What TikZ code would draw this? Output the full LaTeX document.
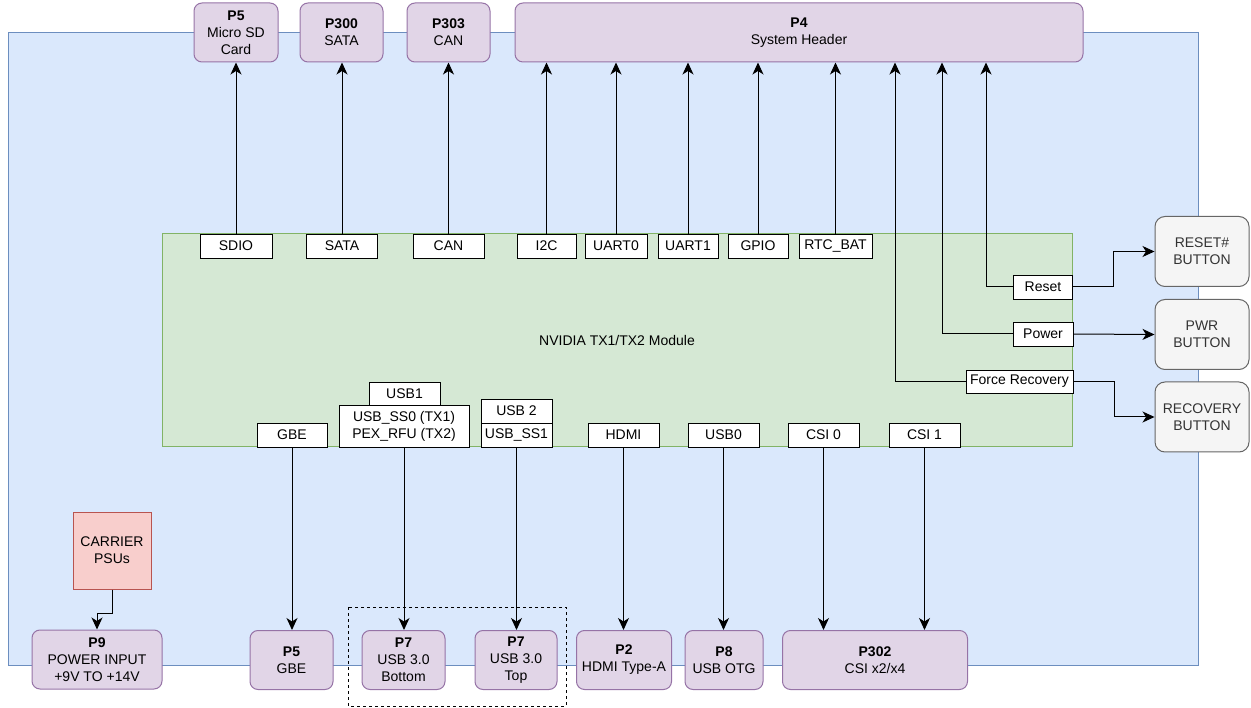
\documentclass[tikz,border=0pt]{standalone}
\usepackage{fontspec}
\setmainfont{Liberation Sans}
\usetikzlibrary{positioning, arrows.meta}

\definecolor{boardfill}{HTML}{DAE8FC}
\definecolor{boardline}{HTML}{6C8EBF}
\definecolor{modfill}{HTML}{D5E8D4}
\definecolor{modline}{HTML}{82B366}
\definecolor{connfill}{HTML}{E1D5E7}
\definecolor{connline}{HTML}{9673A6}
\definecolor{btnfill}{HTML}{F5F5F5}
\definecolor{btnline}{HTML}{666666}
\definecolor{psufill}{HTML}{F8CECC}
\definecolor{psuline}{HTML}{B85450}

\begin{document}
\begin{tikzpicture}[x=1pt, y=-1pt, font=\fontsize{14}{17}\selectfont,
    conn/.style={draw=connline, fill=connfill, line width=1pt, rounded corners=8pt,
                 align=center, inner sep=1pt, minimum height=59pt},
    sig/.style={draw, fill=white, line width=0.8pt, inner sep=1pt, minimum height=24pt},
    btn/.style={draw=btnline, fill=btnfill, line width=1pt, rounded corners=10pt,
                align=center, text=black!80, minimum width=94pt, minimum height=70pt},
    link/.style={line width=1pt, -{Stealth[length=12pt, width=11pt, inset=3.5pt]}}]
                \useasboundingbox (0,0) rectangle (1251,708);
                % carrier board and module
                \draw[fill=boardfill, draw=boardline, line width=1pt] (8,33) rectangle (1198,665);
                \node[draw=modline, fill=modfill, line width=1pt, minimum width=910pt, minimum height=213pt] (tx) at (617,340.5) {NVIDIA TX1/TX2 Module};

                % top connectors
                \node[conn, minimum width=84pt] (p5t) at (236,32.5) {\textbf{P5}\\Micro SD\\Card};
                \node[conn, minimum width=83pt] (p300) at (341.5,32.5) {\textbf{P300}\\SATA};
                \node[conn, minimum width=83pt] (p303) at (448.5,32.5) {\textbf{P303}\\CAN};
                \node[conn, minimum width=568pt] (p4) at (799,32.5) {\textbf{P4}\\System Header};

                % top signals
                \node[sig, minimum width=72pt] (sdio) at (236,246) {SDIO};
                \node[sig, minimum width=71pt] (sata) at (342,246) {SATA};
                \node[sig, minimum width=71pt] (can) at (448.5,246) {CAN};
                \node[sig, minimum width=59pt] (i2c) at (546.5,246) {I2C};
                \node[sig, minimum width=62pt] (uart0) at (616,246) {UART0};
                \node[sig, minimum width=60pt] (uart1) at (688,246) {UART1};
                \node[sig, minimum width=60pt] (gpio) at (758,246) {GPIO};
                \node[sig, minimum width=73pt] (rtc) at (835.5,246) {RTC\_BAT};

                % control signals
                \node[sig, minimum width=59pt] (reset) at (1043,287) {Reset};
                \node[sig, minimum width=60pt] (power) at (1043,334) {Power};
                \node[sig, minimum width=107pt, minimum height=23pt] (frec) at (1019.5,381.5) {Force Recovery};

                % buttons
                \node[btn] (rstbtn) at (1202,251.5) {RESET\#\\BUTTON};
                \node[btn] (pwrbtn) at (1202,334.5) {PWR\\BUTTON};
                \node[btn] (recbtn) at (1202,417) {RECOVERY\\BUTTON};

                % bottom signals
                \node[sig, minimum width=70pt] (gbe) at (292,435) {GBE};
                \node[sig, minimum width=71pt, minimum height=23pt] (usb1) at (404.5,393.5) {USB1};
                \node[sig, minimum width=130pt, minimum height=42pt, align=center] (ss0) at (404,426) {USB\_SS0 (TX1)\\PEX\_RFU (TX2)};
                \node[sig, minimum width=71pt] (usb2) at (516.5,411) {USB 2};
                \node[sig, minimum width=71pt] (ss1) at (516.5,435) {USB\_SS1};
                \node[sig, minimum width=71pt] (hdmi) at (623.5,435) {HDMI};
                \node[sig, minimum width=71pt] (usb0) at (723.5,435) {USB0};
                \node[sig, minimum width=71pt] (csi0) at (823.5,435) {CSI 0};
                \node[sig, minimum width=71pt] (csi1) at (924.5,435) {CSI 1};

                % bottom connectors
                \draw[dashed, line width=1pt] (348,607) rectangle (566,706);
                \node[draw=psuline, fill=psufill, line width=1pt, minimum width=78pt, minimum height=77pt, align=center] (psu) at (112,550.5) {CARRIER\\PSUs};
                \node[conn, minimum width=130pt] (p9) at (97,659.5) {\textbf{P9}\\POWER INPUT\\+9V TO +14V};
                \node[conn, minimum width=83pt] (p5b) at (291.5,660) {\textbf{P5}\\GBE};
                \node[conn, minimum width=83pt] (p7b) at (403.5,660) {\textbf{P7}\\USB 3.0\\Bottom};
                \node[conn, minimum width=82pt] (p7t) at (516,660) {\textbf{P7}\\USB 3.0\\Top};
                \node[conn, minimum width=95pt] (p2) at (624,660) {\textbf{P2}\\HDMI Type-A};
                \node[conn, minimum width=78pt] (p8) at (724,660) {\textbf{P8}\\USB OTG};
                \node[conn, minimum width=185pt] (p302) at (875,660) {\textbf{P302}\\CSI x2/x4};

                \path [link]
                    (sdio) edge (p5t)
                    (sata.north) edge (sata.north |- p300.south)
                    (can.north) edge (can.north |- p303.south)
                    (i2c.north) edge (i2c.north |- p4.south)
                    (uart0.north) edge (uart0.north |- p4.south)
                    (uart1.north) edge (uart1.north |- p4.south)
                    (gpio.north) edge (gpio.north |- p4.south)
                    (rtc.north) edge (rtc.north |- p4.south)
                    (gbe.south) edge (gbe.south |- p5b.north)
                    (ss0.south) edge (ss0.south |- p7b.north)
                    (ss1.south) edge (ss1.south |- p7t.north)
                    (hdmi.south) edge (hdmi.south |- p2.north)
                    (usb0.south) edge (usb0.south |- p8.north)
                    (csi0.south) edge (csi0.south |- p302.north)
                    (csi1.south) edge (csi1.south |- p302.north)
                    (power.east) edge (pwrbtn.west);
                \draw [link] (reset.west) -| ([xshift=187pt]p4.south);
                \draw [link] (power.west) -| ([xshift=143pt]p4.south);
                \draw [link] (frec.west) -| ([xshift=96pt]p4.south);
                \draw [link] (reset.east) -- ++(41,0) |- (rstbtn.west);
                \draw [link] (frec.east) -- ++(41,0) |- (recbtn.west);
                \draw [link] (psu.south) -- ++(0,24) -| (p9.north);
            \end{tikzpicture}
\end{document}
